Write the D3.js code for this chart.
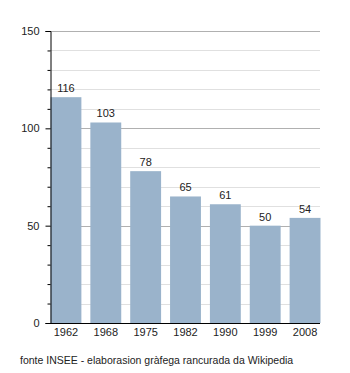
<!DOCTYPE html>
<html><head><meta charset="utf-8">
<script src="https://cdn.jsdelivr.net/npm/d3@7"></script>
<style>body{margin:0;background:#fff}svg{display:block;font-family:"Liberation Sans",Arial,sans-serif}</style>
</head><body><svg id="c" width="350" height="373"></svg>
<script>
const years = ["1962","1968","1975","1982","1990","1999","2008"];
const population = [116,103,78,65,61,50,54];
const yTicks = [0,50,100,150];
const footer = "fonte INSEE - elaborasion gràfega rancurada da Wikipedia";

const svg = d3.select("#c");
const x0 = 50, x1 = 320, yTop = 31, yBot = 323;
const y = d3.scaleLinear().domain([0,150]).range([yBot,yTop]);
const x = d3.scaleBand().domain(years).range([x0+0.5,x1+0.5]).paddingInner(0.225).paddingOuter(0);

// minor grid
const minor = d3.range(10,151,10).filter(v=>v%50!==0);
svg.append("g").selectAll("line").data(minor).join("line")
  .attr("x1",x0).attr("x2",x1).attr("y1",d=>Math.round(y(d))+0.5).attr("y2",d=>Math.round(y(d))+0.5)
  .attr("stroke","#e0e0e0").attr("stroke-width",1);
svg.append("g").selectAll("line").data(yTicks.filter(v=>v>0)).join("line")
  .attr("x1",x0).attr("x2",x1).attr("y1",d=>Math.round(y(d))+0.5).attr("y2",d=>Math.round(y(d))+0.5)
  .attr("stroke","#b0b0b0").attr("stroke-width",1);

// bars
svg.append("g").selectAll("rect").data(population).join("rect")
  .attr("x",(d,i)=>x(years[i])).attr("width",x.bandwidth())
  .attr("y",d=>y(d)).attr("height",d=>yBot-y(d))
  .attr("fill","#9ab3cb");

// value labels
svg.append("g").selectAll("text").data(population).join("text")
  .attr("x",(d,i)=>x(years[i])+x.bandwidth()/2).attr("y",d=>y(d)-5)
  .attr("text-anchor","middle").attr("font-size",11).attr("fill","#222").text(d=>d);

// y axis
const yAxis = d3.axisLeft(y).tickValues(yTicks).tickSize(5).tickPadding(6);
const gy = svg.append("g").attr("transform",`translate(${x0+0.5},0)`).call(yAxis);
gy.select(".domain").attr("stroke","#000");
gy.selectAll(".tick text").attr("font-size",11).attr("fill","#222").attr("font-family","Liberation Sans, Arial, sans-serif");
const gyMinor = d3.axisLeft(y).tickValues(minor).tickSize(3).tickFormat("");
const gm = svg.append("g").attr("transform",`translate(${x0+0.5},0)`).call(gyMinor);
gm.select(".domain").remove();

// x axis
const xAxis = d3.axisBottom(x).tickSize(0).tickPadding(5);
const gx = svg.append("g").attr("transform",`translate(0,${yBot+0.5})`).call(xAxis);
gx.select(".domain").attr("stroke","#000").attr("d",`M${x0},0H${x1}`);
gx.selectAll(".tick text").attr("font-size",11).attr("fill","#222").attr("font-family","Liberation Sans, Arial, sans-serif");

svg.append("text").attr("x",20).attr("y",364).attr("font-size",10.5).attr("fill","#222").text(footer);
</script></body></html>
